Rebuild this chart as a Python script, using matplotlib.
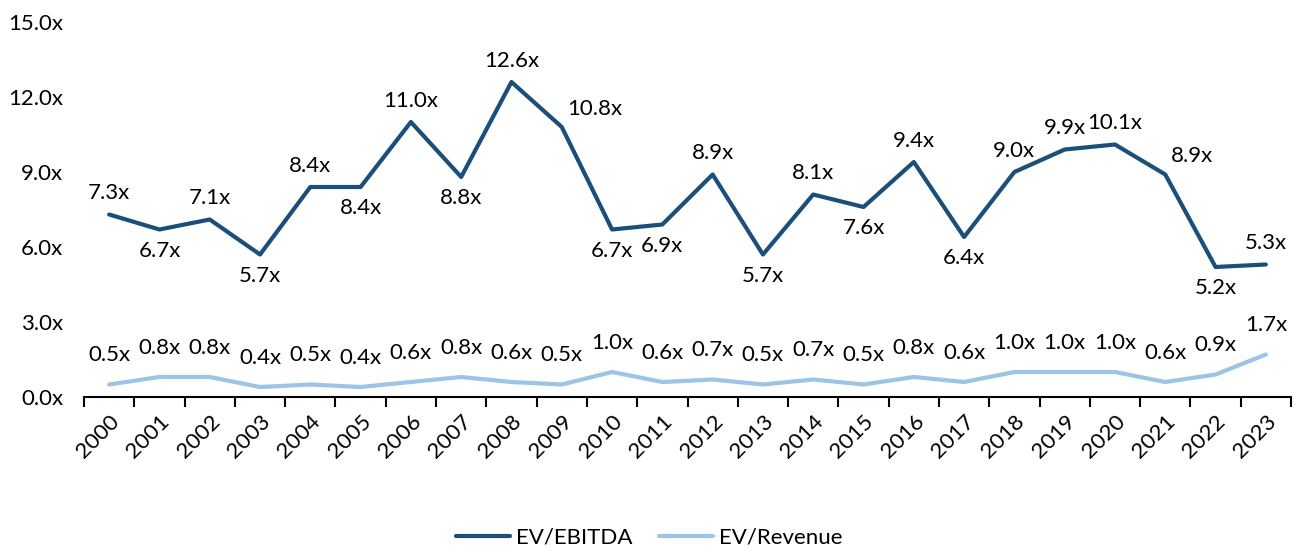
import matplotlib.pyplot as plt
import numpy as np

years = [str(y) for y in range(2000, 2024)]
ev_ebitda = [7.3, 6.7, 7.1, 5.7, 8.4, 8.4, 11.0, 8.8, 12.6, 10.8, 6.7, 6.9,
             8.9, 5.7, 8.1, 7.6, 9.4, 6.4, 9.0, 9.9, 10.1, 8.9, 5.2, 5.3]
ev_revenue = [0.5, 0.8, 0.8, 0.4, 0.5, 0.4, 0.6, 0.8, 0.6, 0.5, 1.0, 0.6,
              0.7, 0.5, 0.7, 0.5, 0.8, 0.6, 1.0, 1.0, 1.0, 0.6, 0.9, 1.7]
# label placement for EV/EBITDA: 'a' above, 'b' below, 'r' above-right
ebitda_pos = ['a', 'b', 'a', 'b', 'a', 'b', 'a', 'b', 'a', 'r', 'b', 'b',
              'a', 'b', 'a', 'b', 'a', 'b', 'a', 'a', 'a', 'r', 'b', 'a']

plt.rcParams['font.family'] = ['Lato', 'DejaVu Sans']
dark = '#1b4f79'
light = '#9dc3e6'

fig = plt.figure(figsize=(12.99, 5.5), dpi=100)
ax = fig.add_axes([84 / 1299, 1 - 397 / 550, (1291 - 84) / 1299, (397 - 22) / 550])

x = np.arange(len(years))
ax.plot(x, ev_ebitda, color=dark, lw=3, label='EV/EBITDA', solid_capstyle='round')
ax.plot(x, ev_revenue, color=light, lw=3, label='EV/Revenue', solid_capstyle='round')

fs = 16
for i, v in enumerate(ev_ebitda):
    p = ebitda_pos[i]
    if p == 'a':
        off, va, ha = (0, 8), 'bottom', 'center'
    elif p == 'b':
        off, va, ha = (0, -8), 'top', 'center'
    else:
        off, va, ha = (4, 6), 'bottom', 'left'
    ax.annotate(f'{v:.1f}x', (i, v), xytext=off, textcoords='offset points',
                ha=ha, va=va, fontsize=fs, color='black')
for i, v in enumerate(ev_revenue):
    ax.annotate(f'{v:.1f}x', (i, v), xytext=(0, 14), textcoords='offset points',
                ha='center', va='bottom', fontsize=fs, color='black')

ax.set_xlim(-0.5, len(years) - 0.5)
ax.set_ylim(0, 15)
ax.set_yticks(np.arange(0, 15.1, 3))
ax.set_yticklabels([f'{t:.1f}x' for t in np.arange(0, 15.1, 3)], fontsize=fs)
ax.tick_params(axis='y', length=0, pad=15)

ax.set_xticks(x)
ax.set_xticklabels(years, rotation=45, ha='right', rotation_mode='anchor', fontsize=fs)
ax.set_xticks(np.arange(-0.5, len(years), 1), minor=True)
ax.tick_params(axis='x', which='major', length=0, pad=10)
ax.tick_params(axis='x', which='minor', length=7, width=1.5, color='black')

for s in ['top', 'right', 'left']:
    ax.spines[s].set_visible(False)
ax.spines['bottom'].set_linewidth(1.5)

fig.legend(loc='center', bbox_to_anchor=(0.5, 1 - 538 / 550), ncol=2, frameon=False,
           fontsize=fs, handlelength=2.4, columnspacing=1.2, handletextpad=0.3)

fig.savefig('out.png', dpi=100)
